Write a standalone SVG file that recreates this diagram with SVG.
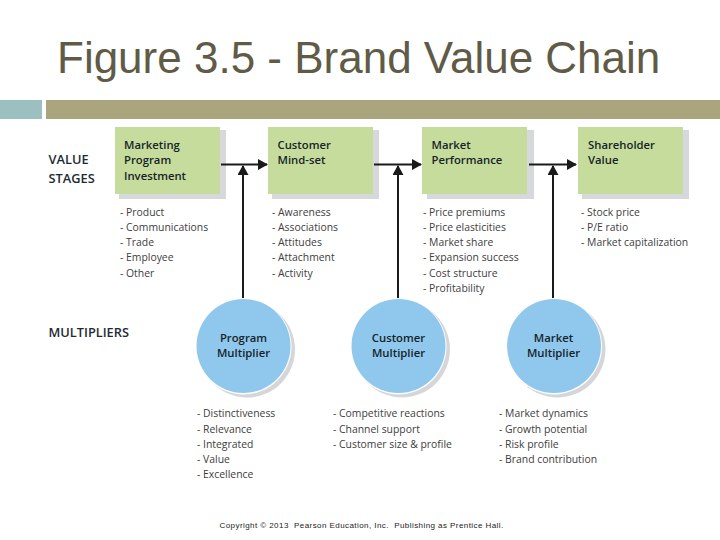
<svg xmlns="http://www.w3.org/2000/svg" width="720" height="540" viewBox="0 0 720 540">
<style>
text{font-family:"Open Sans","Noto Sans",sans-serif}
.box{fill:#c6dc9c}
.sh{fill:#d6d8dc}
.c{fill:#8fc8ec}
.csh{fill:#d4d6da}
.t{font-size:11.3px;font-weight:600;fill:#16242a}
.l{font-size:10.4px;fill:#404040}
.h{font-size:12.8px;font-weight:600;fill:#1e2a33}
.ln{stroke:#1a1a1a;stroke-width:2;fill:none;marker-end:url(#a)}
</style>
<defs><marker id="a" markerUnits="userSpaceOnUse" markerWidth="11" markerHeight="11" refX="9" refY="5.500" orient="auto"><path d="M0 0L10 5.500L0 11Z" fill="#1a1a1a"/></marker></defs>
<rect width="720" height="540" fill="#fff"/>
<text x="57" y="73" style="font-family:'Liberation Sans',sans-serif;font-size:44px;fill:#5f5b47">Figure 3.5 - Brand Value Chain</text>
<rect x="0" y="100" width="42" height="19" fill="#9cbfc0"/>
<rect x="46" y="100" width="674" height="19" fill="#aaa57c"/>
<text class="h" x="48.500" y="164">VALUE</text><text class="h" x="48.500" y="183">STAGES</text><text class="h" x="48.500" y="337">MULTIPLIERS</text>
<g id="n1"><rect class="sh" x="119" y="130" width="107" height="69"/><rect class="box" x="115" y="127" width="105" height="67"/><text class="t" x="124" y="149">Marketing</text><text class="t" x="124" y="164">Program</text><text class="t" x="124" y="180">Investment</text></g>
<g id="n2"><rect class="sh" x="272" y="130" width="107" height="69"/><rect class="box" x="268" y="127" width="105" height="67"/><text class="t" x="277.500" y="149">Customer</text><text class="t" x="277.500" y="164">Mind-set</text></g>
<g id="n3"><rect class="sh" x="427" y="130" width="107" height="69"/><rect class="box" x="422" y="127" width="105" height="67"/><text class="t" x="431.500" y="149">Market</text><text class="t" x="431.500" y="164">Performance</text></g>
<g id="n4"><rect class="sh" x="582" y="130" width="107" height="69"/><rect class="box" x="578" y="127" width="105" height="67"/><text class="t" x="588" y="149">Shareholder</text><text class="t" x="588" y="164">Value</text></g>
<g id="connectors">
<path class="ln" d="M221 164.500H267"/>
<path class="ln" d="M374 164.500H421"/>
<path class="ln" d="M529 164.500H576"/>
<path class="ln" d="M243 298V166"/>
<path class="ln" d="M398 298V166"/>
<path class="ln" d="M553 298V166"/>
</g>
<text class="l" x="120" y="216">- Product</text><text class="l" x="120" y="231">- Communications</text><text class="l" x="120" y="246">- Trade</text><text class="l" x="120" y="261">- Employee</text><text class="l" x="120" y="277">- Other</text>
<text class="l" x="272" y="216">- Awareness</text><text class="l" x="272" y="231">- Associations</text><text class="l" x="272" y="246">- Attitudes</text><text class="l" x="272" y="261">- Attachment</text><text class="l" x="272" y="277">- Activity</text>
<text class="l" x="423" y="216">- Price premiums</text><text class="l" x="423" y="231">- Price elasticities</text><text class="l" x="423" y="246">- Market share</text><text class="l" x="423" y="261">- Expansion success</text><text class="l" x="423" y="277">- Cost structure</text><text class="l" x="423" y="292">- Profitability</text>
<text class="l" x="581" y="216">- Stock price</text><text class="l" x="581" y="231">- P/E ratio</text><text class="l" x="581" y="246">- Market capitalization</text>
<text class="l" x="197" y="417">- Distinctiveness</text><text class="l" x="197" y="433">- Relevance</text><text class="l" x="197" y="448">- Integrated</text><text class="l" x="197" y="463">- Value</text><text class="l" x="197" y="478">- Excellence</text>
<text class="l" x="333" y="417">- Competitive reactions</text><text class="l" x="333" y="433">- Channel support</text><text class="l" x="333" y="448">- Customer size &amp; profile</text>
<text class="l" x="499" y="417">- Market dynamics</text><text class="l" x="499" y="433">- Growth potential</text><text class="l" x="499" y="448">- Risk profile</text><text class="l" x="499" y="463">- Brand contribution</text>
<g id="m1"><circle class="csh" cx="247" cy="349.500" r="48"/><circle cx="243.500" cy="346.500" r="48" fill="#fff"/><circle class="c" cx="243.500" cy="346" r="47"/><text class="t" x="243.500" y="342" text-anchor="middle">Program</text><text class="t" x="243.500" y="357" text-anchor="middle">Multiplier</text></g>
<g id="m2"><circle class="csh" cx="402" cy="349.500" r="48"/><circle cx="398.500" cy="346.500" r="48" fill="#fff"/><circle class="c" cx="398.500" cy="346" r="47"/><text class="t" x="398.500" y="342" text-anchor="middle">Customer</text><text class="t" x="398.500" y="357" text-anchor="middle">Multiplier</text></g>
<g id="m3"><circle class="csh" cx="557.500" cy="349.500" r="48"/><circle cx="554" cy="346.500" r="48" fill="#fff"/><circle class="c" cx="554" cy="346" r="47"/><text class="t" x="553.500" y="342" text-anchor="middle">Market</text><text class="t" x="553.500" y="357" text-anchor="middle">Multiplier</text></g>
<text x="219.500" y="528" style="font-family:'Liberation Sans',sans-serif;font-size:8px;letter-spacing:.43px;white-space:pre;fill:#222">Copyright © 2013  Pearson Education, Inc.  Publishing as Prentice Hall.</text>
</svg>
